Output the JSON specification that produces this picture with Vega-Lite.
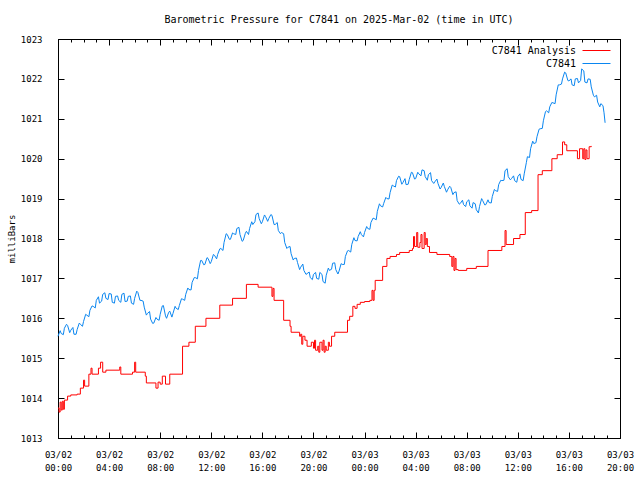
{
"$schema": "https://vega.github.io/schema/vega-lite/v6.json",
"width": 562, "height": 399,
"autosize": {"type": "none"},
"padding": {"left": 58, "top": 39, "right": 20, "bottom": 42},
"background": "white",
"title": {"text": "Barometric Pressure for C7841 on 2025-Mar-02 (time in UTC)", "fontSize": 10, "font": "DejaVu Sans Mono", "fontWeight": "normal", "color": "black", "offset": 10, "anchor": "middle", "frame": "group"},
"config": {"view": {"stroke": "black", "strokeWidth": 1}, "font": "DejaVu Sans Mono",
  "axis": {"domain": false, "ticks": false, "gridColor": "#000000", "gridOpacity": 1, "gridWidth": 1, "labelColor": "black", "titleColor": "black", "labelFont": "DejaVu Sans Mono", "titleFont": "DejaVu Sans Mono", "labelFontSize": 9, "titleFontSize": 9, "titleFontWeight": "normal", "labelFlush": false, "labelOverlap": false, "labelBound": false}},
"datasets": {
"analysis": [
{"m":0,"p":1013.75},{"m":5,"p":1013.65},{"m":10,"p":1013.9},{"m":15,"p":1013.7},{"m":20,"p":1013.92},{"m":25,"p":1013.72},{"m":30,"p":1013.95},{"m":45,"p":1014.05},{"m":60,"p":1014.08},{"m":90,"p":1014.1},{"m":105,"p":1014.25},{"m":120,"p":1014.45},{"m":125,"p":1014.3},{"m":145,"p":1014.6},{"m":155,"p":1014.75},{"m":160,"p":1014.6},{"m":190,"p":1014.75},{"m":200,"p":1014.9},{"m":210,"p":1014.65},{"m":225,"p":1014.7},{"m":290,"p":1014.78},{"m":295,"p":1014.6},{"m":350,"p":1014.65},{"m":360,"p":1014.9},{"m":365,"p":1014.65},{"m":410,"p":1014.55},{"m":415,"p":1014.38},{"m":460,"p":1014.25},{"m":470,"p":1014.4},{"m":480,"p":1014.35},{"m":490,"p":1014.55},{"m":505,"p":1014.35},{"m":525,"p":1014.6},{"m":585,"p":1015.3},{"m":615,"p":1015.4},{"m":645,"p":1015.8},{"m":695,"p":1016.0},{"m":760,"p":1016.33},{"m":820,"p":1016.5},{"m":885,"p":1016.85},{"m":940,"p":1016.78},{"m":1005,"p":1016.55},{"m":1010,"p":1016.75},{"m":1015,"p":1016.45},{"m":1060,"p":1015.95},{"m":1090,"p":1015.8},{"m":1095,"p":1015.65},{"m":1135,"p":1015.55},{"m":1140,"p":1015.6},{"m":1145,"p":1015.35},{"m":1150,"p":1015.55},{"m":1160,"p":1015.45},{"m":1170,"p":1015.3},{"m":1190,"p":1015.4},{"m":1200,"p":1015.25},{"m":1205,"p":1015.45},{"m":1210,"p":1015.2},{"m":1220,"p":1015.3},{"m":1225,"p":1015.15},{"m":1230,"p":1015.4},{"m":1240,"p":1015.2},{"m":1245,"p":1015.45},{"m":1250,"p":1015.15},{"m":1255,"p":1015.3},{"m":1260,"p":1015.2},{"m":1270,"p":1015.4},{"m":1275,"p":1015.3},{"m":1285,"p":1015.55},{"m":1300,"p":1015.65},{"m":1360,"p":1015.95},{"m":1370,"p":1016.05},{"m":1385,"p":1016.3},{"m":1395,"p":1016.25},{"m":1405,"p":1016.35},{"m":1420,"p":1016.4},
{"m":1440,"p":1016.42},{"m":1465,"p":1016.45},{"m":1475,"p":1016.7},{"m":1480,"p":1016.45},{"m":1485,"p":1016.7},{"m":1490,"p":1016.95},{"m":1525,"p":1017.3},{"m":1545,"p":1017.5},{"m":1560,"p":1017.55},{"m":1590,"p":1017.6},{"m":1605,"p":1017.65},{"m":1650,"p":1017.7},{"m":1665,"p":1017.75},{"m":1670,"p":1018.05},{"m":1675,"p":1017.8},{"m":1685,"p":1018.15},{"m":1690,"p":1017.78},{"m":1700,"p":1017.9},{"m":1705,"p":1018.1},{"m":1710,"p":1017.75},{"m":1720,"p":1018.15},{"m":1725,"p":1017.85},{"m":1730,"p":1018.0},{"m":1735,"p":1017.8},{"m":1745,"p":1017.65},{"m":1780,"p":1017.6},{"m":1840,"p":1017.55},{"m":1850,"p":1017.3},{"m":1855,"p":1017.55},{"m":1860,"p":1017.2},{"m":1865,"p":1017.5},{"m":1870,"p":1017.22},{"m":1880,"p":1017.2},{"m":1920,"p":1017.25},{"m":1965,"p":1017.3},{"m":2020,"p":1017.7},{"m":2085,"p":1017.8},{"m":2100,"p":1018.2},{"m":2105,"p":1017.85},{"m":2140,"p":1018.0},{"m":2170,"p":1018.1},{"m":2195,"p":1018.65},{"m":2225,"p":1018.7},{"m":2255,"p":1019.6},{"m":2275,"p":1019.7},{"m":2320,"p":1020.0},{"m":2345,"p":1020.1},{"m":2370,"p":1020.42},{"m":2380,"p":1020.35},{"m":2390,"p":1020.2},{"m":2440,"p":1020.0},{"m":2450,"p":1020.25},{"m":2465,"p":1020.0},{"m":2470,"p":1020.25},{"m":2475,"p":1019.98},{"m":2480,"p":1020.22},{"m":2485,"p":1020.0},{"m":2495,"p":1020.3},{"m":2505,"p":1020.32}
],
"obs": [
{"m":0,"p":1015.55},{"m":10,"p":1015.69},{"m":15,"p":1015.62},{"m":25,"p":1015.59},{"m":30,"p":1015.75},{"m":40,"p":1015.85},{"m":45,"p":1015.82},{"m":55,"p":1015.64},{"m":60,"p":1015.7},{"m":70,"p":1015.77},{"m":75,"p":1015.6},{"m":85,"p":1015.6},{"m":90,"p":1015.72},{"m":100,"p":1015.88},{"m":105,"p":1015.85},{"m":115,"p":1015.8},{"m":120,"p":1015.92},{"m":130,"p":1016.1},{"m":135,"p":1016.08},{"m":145,"p":1016.04},{"m":150,"p":1016.2},{"m":160,"p":1016.31},{"m":165,"p":1016.3},{"m":175,"p":1016.26},{"m":180,"p":1016.45},{"m":190,"p":1016.54},{"m":195,"p":1016.38},{"m":205,"p":1016.43},{"m":210,"p":1016.6},{"m":220,"p":1016.64},{"m":225,"p":1016.5},{"m":235,"p":1016.47},{"m":240,"p":1016.62},{"m":250,"p":1016.61},{"m":255,"p":1016.4},{"m":265,"p":1016.38},{"m":270,"p":1016.55},{"m":280,"p":1016.56},{"m":285,"p":1016.45},{"m":295,"p":1016.4},{"m":300,"p":1016.6},{"m":310,"p":1016.63},{"m":315,"p":1016.42},{"m":325,"p":1016.43},{"m":330,"p":1016.55},{"m":340,"p":1016.56},{"m":345,"p":1016.38},{"m":355,"p":1016.35},{"m":360,"p":1016.5},{"m":370,"p":1016.68},{"m":375,"p":1016.65},{"m":385,"p":1016.45},{"m":390,"p":1016.45},{"m":400,"p":1016.43},{"m":405,"p":1016.28},{"m":415,"p":1016.08},{"m":420,"p":1016.12},{"m":430,"p":1016.17},{"m":435,"p":1015.98},{"m":445,"p":1015.87},{"m":450,"p":1015.88},{"m":460,"p":1016.02},{"m":465,"p":1015.98},{"m":475,"p":1015.95},{"m":480,"p":1016.1},{"m":490,"p":1016.31},{"m":495,"p":1016.32},{"m":505,"p":1016.06},{"m":510,"p":1016.0},{"m":520,"p":1016.15},{"m":525,"p":1016.18},{"m":535,"p":1016.03},{"m":540,"p":1016.12},{"m":550,"p":1016.3},{"m":555,"p":1016.25},{"m":565,"p":1016.22},{"m":570,"p":1016.32},{"m":580,"p":1016.49},{"m":585,"p":1016.48},{"m":595,"p":1016.45},{"m":600,"p":1016.6},{"m":610,"p":1016.76},{"m":615,"p":1016.72},{"m":625,"p":1016.71},{"m":630,"p":1016.9},{"m":640,"p":1017.02},{"m":645,"p":1017.02},{"m":655,"p":1016.99},{"m":660,"p":1017.2},{"m":670,"p":1017.45},{"m":675,"p":1017.45},{"m":685,"p":1017.34},{"m":690,"p":1017.35},{"m":700,"p":1017.52},{"m":705,"p":1017.5},{"m":715,"p":1017.37},{"m":720,"p":1017.42},{"m":730,"p":1017.6},{"m":735,"p":1017.58},{"m":745,"p":1017.49},{"m":750,"p":1017.6},{"m":760,"p":1017.74},{"m":765,"p":1017.75},{"m":775,"p":1017.7},{"m":780,"p":1017.9},{"m":790,"p":1018.12},{"m":795,"p":1018.1},{"m":805,"p":1017.98},{"m":810,"p":1017.98},{"m":820,"p":1018.14},{"m":825,"p":1018.12},{"m":835,"p":1018.1},{"m":840,"p":1018.25},{"m":850,"p":1018.28},{"m":855,"p":1018.1},{"m":865,"p":1017.93},{"m":870,"p":1017.95},{"m":880,"p":1018.13},{"m":885,"p":1018.18},{"m":895,"p":1018.1},{"m":900,"p":1018.25},{"m":910,"p":1018.42},{"m":915,"p":1018.35},{"m":925,"p":1018.42},{"m":930,"p":1018.6},{"m":940,"p":1018.64},{"m":945,"p":1018.5},{"m":955,"p":1018.37},{"m":960,"p":1018.42},{"m":970,"p":1018.59},{"m":975,"p":1018.55},{"m":985,"p":1018.43},{"m":990,"p":1018.5},{"m":1000,"p":1018.6},{"m":1005,"p":1018.58},{"m":1015,"p":1018.35},{"m":1020,"p":1018.35},{"m":1030,"p":1018.4},{"m":1035,"p":1018.2},{"m":1045,"p":1018.12},{"m":1050,"p":1018.15},{"m":1060,"p":1018.12},{"m":1065,"p":1017.9},{"m":1075,"p":1017.75},{"m":1080,"p":1017.78},{"m":1090,"p":1017.8},{"m":1095,"p":1017.62},{"m":1105,"p":1017.46},{"m":1110,"p":1017.5},{"m":1120,"p":1017.51},{"m":1125,"p":1017.4},{"m":1135,"p":1017.22},{"m":1140,"p":1017.28},{"m":1150,"p":1017.36},{"m":1155,"p":1017.2},{"m":1165,"p":1017.1},{"m":1170,"p":1017.12},{"m":1180,"p":1017.16},{"m":1185,"p":1017.02},{"m":1195,"p":1016.97},{"m":1200,"p":1017.1},{"m":1210,"p":1017.15},{"m":1215,"p":1017.0},{"m":1225,"p":1016.98},{"m":1230,"p":1017.15},{"m":1240,"p":1017.1},{"m":1245,"p":1016.92},{"m":1255,"p":1016.88},{"m":1260,"p":1017.08},{"m":1270,"p":1017.26},{"m":1275,"p":1017.2},{"m":1285,"p":1017.23},{"m":1290,"p":1017.38},{"m":1300,"p":1017.39},{"m":1305,"p":1017.22},{"m":1315,"p":1017.11},{"m":1320,"p":1017.18},{"m":1330,"p":1017.37},{"m":1335,"p":1017.35},{"m":1345,"p":1017.35},{"m":1350,"p":1017.55},{"m":1360,"p":1017.69},{"m":1365,"p":1017.7},{"m":1375,"p":1017.66},{"m":1380,"p":1017.85},{"m":1390,"p":1018.02},{"m":1395,"p":1017.95},{"m":1405,"p":1017.94},{"m":1410,"p":1018.05},{"m":1420,"p":1018.17},{"m":1425,"p":1018.1},{"m":1435,"p":1018.04},
{"m":1440,"p":1018.15},{"m":1450,"p":1018.3},{"m":1455,"p":1018.25},{"m":1465,"p":1018.23},{"m":1470,"p":1018.4},{"m":1480,"p":1018.51},{"m":1485,"p":1018.5},{"m":1495,"p":1018.47},{"m":1500,"p":1018.68},{"m":1510,"p":1018.87},{"m":1515,"p":1018.82},{"m":1525,"p":1018.79},{"m":1530,"p":1018.88},{"m":1540,"p":1019.03},{"m":1545,"p":1019.0},{"m":1555,"p":1018.99},{"m":1560,"p":1019.15},{"m":1570,"p":1019.34},{"m":1575,"p":1019.32},{"m":1585,"p":1019.29},{"m":1590,"p":1019.45},{"m":1600,"p":1019.56},{"m":1605,"p":1019.55},{"m":1615,"p":1019.36},{"m":1620,"p":1019.4},{"m":1630,"p":1019.5},{"m":1635,"p":1019.35},{"m":1645,"p":1019.36},{"m":1650,"p":1019.48},{"m":1660,"p":1019.66},{"m":1665,"p":1019.65},{"m":1675,"p":1019.49},{"m":1680,"p":1019.5},{"m":1690,"p":1019.66},{"m":1695,"p":1019.62},{"m":1705,"p":1019.57},{"m":1710,"p":1019.72},{"m":1720,"p":1019.7},{"m":1725,"p":1019.55},{"m":1735,"p":1019.46},{"m":1740,"p":1019.6},{"m":1750,"p":1019.65},{"m":1755,"p":1019.45},{"m":1765,"p":1019.38},{"m":1770,"p":1019.42},{"m":1780,"p":1019.49},{"m":1785,"p":1019.38},{"m":1795,"p":1019.24},{"m":1800,"p":1019.28},{"m":1810,"p":1019.39},{"m":1815,"p":1019.3},{"m":1825,"p":1019.16},{"m":1830,"p":1019.22},{"m":1840,"p":1019.31},{"m":1845,"p":1019.28},{"m":1855,"p":1019.1},{"m":1860,"p":1019.15},{"m":1870,"p":1019.17},{"m":1875,"p":1018.95},{"m":1885,"p":1018.86},{"m":1890,"p":1018.88},{"m":1900,"p":1018.96},{"m":1905,"p":1018.85},{"m":1915,"p":1018.8},{"m":1920,"p":1018.92},{"m":1930,"p":1018.97},{"m":1935,"p":1018.82},{"m":1945,"p":1018.76},{"m":1950,"p":1018.9},{"m":1960,"p":1018.87},{"m":1965,"p":1018.72},{"m":1975,"p":1018.64},{"m":1980,"p":1018.8},{"m":1990,"p":1019.0},{"m":1995,"p":1018.95},{"m":2005,"p":1018.84},{"m":2010,"p":1018.85},{"m":2020,"p":1018.97},{"m":2025,"p":1018.9},{"m":2035,"p":1018.89},{"m":2040,"p":1019.05},{"m":2050,"p":1019.23},{"m":2055,"p":1019.2},{"m":2065,"p":1019.18},{"m":2070,"p":1019.35},{"m":2080,"p":1019.46},{"m":2085,"p":1019.45},{"m":2095,"p":1019.46},{"m":2100,"p":1019.7},{"m":2110,"p":1019.75},{"m":2115,"p":1019.55},{"m":2125,"p":1019.47},{"m":2130,"p":1019.5},{"m":2140,"p":1019.57},{"m":2145,"p":1019.45},{"m":2155,"p":1019.41},{"m":2160,"p":1019.55},{"m":2170,"p":1019.62},{"m":2175,"p":1019.48},{"m":2185,"p":1019.45},{"m":2190,"p":1019.62},{"m":2200,"p":1019.9},{"m":2205,"p":1020.05},{"m":2215,"p":1020.03},{"m":2220,"p":1020.25},{"m":2230,"p":1020.44},{"m":2235,"p":1020.38},{"m":2245,"p":1020.4},{"m":2250,"p":1020.55},{"m":2260,"p":1020.74},{"m":2265,"p":1020.75},{"m":2275,"p":1020.76},{"m":2280,"p":1020.95},{"m":2290,"p":1021.18},{"m":2295,"p":1021.2},{"m":2305,"p":1021.15},{"m":2310,"p":1021.3},{"m":2320,"p":1021.41},{"m":2325,"p":1021.4},{"m":2335,"p":1021.38},{"m":2340,"p":1021.6},{"m":2350,"p":1021.85},{"m":2355,"p":1021.85},{"m":2365,"p":1021.87},{"m":2370,"p":1022.0},{"m":2380,"p":1022.17},{"m":2385,"p":1022.15},{"m":2395,"p":1021.96},{"m":2400,"p":1021.95},{"m":2410,"p":1022.0},{"m":2415,"p":1021.85},{"m":2425,"p":1021.83},{"m":2430,"p":1022.0},{"m":2440,"p":1022.01},{"m":2445,"p":1021.9},{"m":2455,"p":1021.96},{"m":2460,"p":1022.25},{"m":2470,"p":1022.2},{"m":2475,"p":1021.92},{"m":2485,"p":1021.9},{"m":2490,"p":1022.0},{"m":2500,"p":1021.99},{"m":2505,"p":1021.8},{"m":2515,"p":1021.59},{"m":2520,"p":1021.55},{"m":2530,"p":1021.59},{"m":2535,"p":1021.42},{"m":2545,"p":1021.3},{"m":2550,"p":1021.38},{"m":2560,"p":1021.33},{"m":2565,"p":1021.15},{"m":2570,"p":1020.9}
]
},
"layer": [
{
 "data": {"name": "analysis"},
 "mark": {"type": "line", "interpolate": "step-after", "strokeWidth": 1},
 "encoding": {
  "x": {"field": "m", "type": "quantitative",
   "scale": {"domain": [0, 2640], "nice": false, "zero": false},
   "axis": {"orient": "bottom", "title": null, "values": [0, 240, 480, 720, 960, 1200, 1440, 1680, 1920, 2160, 2400, 2640], "grid": true, "gridDash": [6, 387], "labelPadding": 12, "labelLineHeight": 13, "labelBaseline": "top", "labelExpr": "[datum.value < 1440 ? '03/02' : '03/03', (datum.value % 1440 < 600 ? '0' : '') + floor((datum.value % 1440) / 60) + ':00']"}},
  "y": {"field": "p", "type": "quantitative",
   "scale": {"domain": [1013, 1023], "nice": false, "zero": false},
   "axis": {"orient": "left", "title": "milliBars", "values": [1013, 1014, 1015, 1016, 1017, 1018, 1019, 1020, 1021, 1022, 1023], "format": "d", "grid": true, "gridDash": [6, 550], "labelPadding": 16, "titlePadding": 4}},
  "color": {"datum": "C7841 Analysis", "type": "nominal",
   "scale": {"domain": ["C7841 Analysis", "C7841"], "range": ["#ff0000", "#0a86f0"]},
   "legend": {"orient": "none", "legendX": 533, "legendY": 6, "title": null, "symbolType": "M-3,0H3", "symbolSize": 87, "symbolStrokeWidth": 1, "symbolFillColor": "transparent", "labelAlign": "right", "labelOffset": -26, "labelFontSize": 10, "labelFont": "DejaVu Sans Mono", "labelColor": "black", "rowPadding": 2, "padding": 0}}
 }
},
{
 "data": {"name": "obs"},
 "mark": {"type": "line", "strokeWidth": 1},
 "encoding": {
  "x": {"field": "m", "type": "quantitative", "axis": null},
  "y": {"field": "p", "type": "quantitative", "axis": null},
  "color": {"datum": "C7841", "type": "nominal"}
 }
},
{
 "data": {"name": "analysis"},
 "mark": {"type": "line", "strokeOpacity": 0},
 "encoding": {
  "x": {"field": "m", "type": "quantitative",
   "axis": {"orient": "top", "title": null, "labels": false, "grid": true, "gridDash": [3, 393], "values": [0,60,120,180,240,300,360,420,480,540,600,660,720,780,840,900,960,1020,1080,1140,1200,1260,1320,1380,1440,1500,1560,1620,1680,1740,1800,1860,1920,1980,2040,2100,2160,2220,2280,2340,2400,2460,2520,2580,2640]}},
  "y": {"field": "p", "type": "quantitative", "axis": null}
 }
}
],
"resolve": {"axis": {"x": "independent", "y": "independent"}}
}
